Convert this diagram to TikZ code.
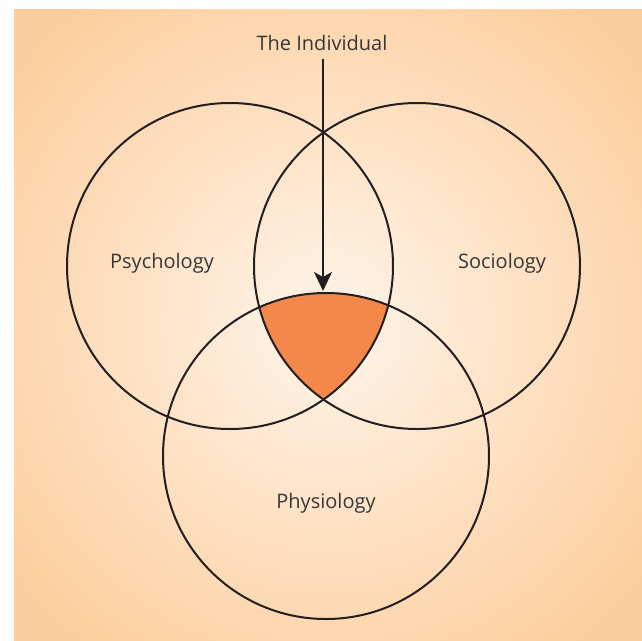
\documentclass[tikz,border=0pt]{standalone}
\usepackage{fontspec}
\setmainfont{Open Sans}
\usetikzlibrary{arrows.meta}
\definecolor{peach}{RGB}{253,206,157}
\definecolor{lightc}{RGB}{254,240,225}
\definecolor{core}{RGB}{244,136,74}
\definecolor{ink}{RGB}{35,31,32}
\definecolor{txt}{RGB}{55,55,55}
\pgfdeclareradialshading{bgshade}{\pgfpoint{0bp}{0bp}}{color(0bp)=(lightc); color(4bp)=(lightc); color(32bp)=(peach); color(50bp)=(peach)}
\tikzset{
  ring/.style={draw=ink, line width=2pt},
  lbl/.style={font=\fontsize{20}{24}\selectfont, text=txt, inner sep=0pt},
  pointer/.style={draw=ink, line width=2pt, -{Stealth[length=19pt,width=18pt,inset=5pt]}}
}
\begin{document}
\begin{tikzpicture}[x=1pt,y=-1pt]
\useasboundingbox (0,0) rectangle (642,640);
\shade[shading=bgshade] (14,9) rectangle (642,640);
\coordinate (cA) at (230,266);
\coordinate (cB) at (417,266);
\coordinate (cC) at (326,456);
\begin{scope}
  \clip (cA) circle (163);
  \clip (cB) circle (163);
  \fill[core] (cC) circle (163);
\end{scope}
\draw[ring] (cA) circle (163);
\draw[ring] (cB) circle (163);
\draw[ring] (cC) circle (163);
\node[lbl] (psy) at (162,263) {Psychology};
\node[lbl] (soc) at (502,263) {Sociology};
\node[lbl] (phy) at (326,503) {Physiology};
\node[lbl, anchor=base] (ind) at (322,50) {The Individual};
\coordinate (tip) at (323,291);
\draw[pointer] ([xshift=1pt,yshift=-9pt]ind.base) -- (tip);
\end{tikzpicture}
\end{document}
